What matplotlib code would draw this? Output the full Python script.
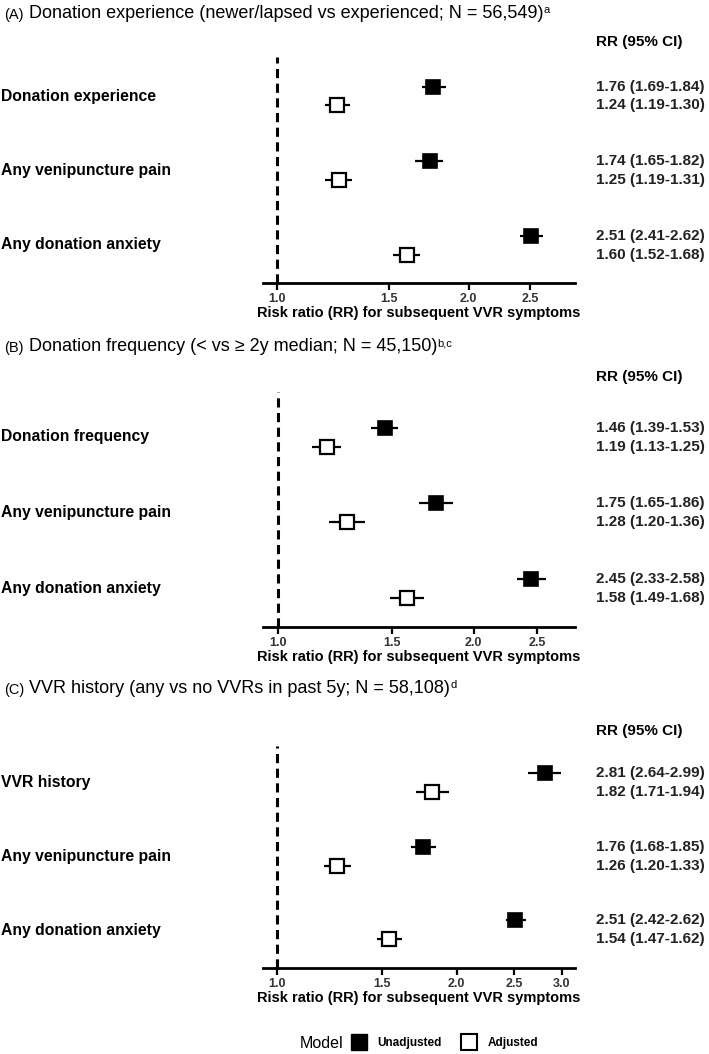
import matplotlib
matplotlib.use("Agg")
import matplotlib.pyplot as plt
from matplotlib.lines import Line2D
import numpy as np

plt.rcParams['font.family'] = ['Liberation Sans', 'DejaVu Sans']

# ---------------- data ----------------
titles_prefix = ["(A)", "(B)", "(C)"]
titles_main = [
    "Donation experience (newer/lapsed vs experienced; N = 56,549)",
    "Donation frequency (< vs \u2265 2y median; N = 45,150)",
    "VVR history (any vs no VVRs in past 5y; N = 58,108)",
]
titles_sup = ["a", "b,c", "d"]

labels_A = ["Donation experience", "Any venipuncture pain", "Any donation anxiety"]
labels_B = ["Donation frequency", "Any venipuncture pain", "Any donation anxiety"]
labels_C = ["VVR history", "Any venipuncture pain", "Any donation anxiety"]

A_unadj = [1.76, 1.74, 2.51]
A_unadj_lo = [1.69, 1.65, 2.41]
A_unadj_hi = [1.84, 1.82, 2.62]
A_adj = [1.24, 1.25, 1.60]
A_adj_lo = [1.19, 1.19, 1.52]
A_adj_hi = [1.30, 1.31, 1.68]

B_unadj = [1.46, 1.75, 2.45]
B_unadj_lo = [1.39, 1.65, 2.33]
B_unadj_hi = [1.53, 1.86, 2.58]
B_adj = [1.19, 1.28, 1.58]
B_adj_lo = [1.13, 1.20, 1.49]
B_adj_hi = [1.25, 1.36, 1.68]

C_unadj = [2.81, 1.76, 2.51]
C_unadj_lo = [2.64, 1.68, 2.42]
C_unadj_hi = [2.99, 1.85, 2.62]
C_adj = [1.82, 1.26, 1.54]
C_adj_lo = [1.71, 1.20, 1.47]
C_adj_hi = [1.94, 1.33, 1.62]

ticks_AB = [1.0, 1.5, 2.0, 2.5]
ticks_C = [1.0, 1.5, 2.0, 2.5, 3.0]

xlabel = "Risk ratio (RR) for subsequent VVR symptoms"
header = "RR (95% CI)"

# ---------------- layout (pixels) ----------------
W, H = 709, 1054
DPI = 100
AX_L, AX_R = 263, 575
VAL_X = 596

panels = [
    dict(labels=labels_A, u=A_unadj, ul=A_unadj_lo, uh=A_unadj_hi,
         a=A_adj, al=A_adj_lo, ah=A_adj_hi, ticks=ticks_AB, xlim=(0.95, 2.94),
         title_y=15, header_y=42, dash_top=57, axis_y=283,
         ry_u=[87, 161, 236], ry_a=[105, 180, 255], ly=[97, 170, 244]),
    dict(labels=labels_B, u=B_unadj, ul=B_unadj_lo, uh=B_unadj_hi,
         a=B_adj, al=B_adj_lo, ah=B_adj_hi, ticks=ticks_AB, xlim=(0.95, 2.86),
         title_y=348, header_y=377, dash_top=392, axis_y=627,
         ry_u=[428, 503, 579], ry_a=[447, 522, 598], ly=[437, 512, 588]),
    dict(labels=labels_C, u=C_unadj, ul=C_unadj_lo, uh=C_unadj_hi,
         a=C_adj, al=C_adj_lo, ah=C_adj_hi, ticks=ticks_C, xlim=(0.947, 3.16),
         title_y=690, header_y=731, dash_top=746, axis_y=968,
         ry_u=[773, 847, 920], ry_a=[792, 866, 939], ly=[782, 857, 931]),
]

fig = plt.figure(figsize=(W / DPI, H / DPI), dpi=DPI)
fig.patch.set_facecolor("white")


def fx(px):
    return px / W


def fy(py):
    return 1 - py / H


MS = 10.5
for i, p in enumerate(panels):
    ax = fig.add_axes([fx(AX_L), fy(p["axis_y"]), fx(AX_R - AX_L),
                       (p["axis_y"] - p["dash_top"]) / H])
    ax.set_xscale("log")
    ax.set_xlim(*p["xlim"])
    ax.set_ylim(p["axis_y"], p["dash_top"])
    ax.axvline(1.0, color="black", lw=2.2, ls=(0, (3, 1.8)), zorder=1)

    u = np.array(p["u"]); a = np.array(p["a"])
    ax.errorbar(u, p["ry_u"], xerr=[u - np.array(p["ul"]), np.array(p["uh"]) - u],
                fmt="s", color="black", ms=MS, mfc="black", mec="black", mew=1.2,
                elinewidth=1.6, capsize=0, zorder=3, clip_on=False)
    ax.errorbar(a, p["ry_a"], xerr=[a - np.array(p["al"]), np.array(p["ah"]) - a],
                fmt="s", color="black", ms=MS, mfc="white", mec="black", mew=1.6,
                elinewidth=1.6, capsize=0, zorder=3, clip_on=False)

    for s in ["top", "right", "left"]:
        ax.spines[s].set_visible(False)
    ax.spines["bottom"].set_linewidth(2.0)
    ax.set_yticks([])
    ax.set_xticks(p["ticks"])
    ax.set_xticklabels([f"{t:.1f}" for t in p["ticks"]], fontsize=9,
                       fontweight="bold", color="#333333")
    ax.xaxis.set_minor_locator(matplotlib.ticker.NullLocator())
    ax.tick_params(axis="x", direction="out", length=5, width=1.6, pad=2)
    ax.set_xlabel(xlabel, fontsize=10.5, fontweight="bold", labelpad=1)
    ax.patch.set_alpha(0)

    # title
    t1 = fig.text(fx(4), fy(p["title_y"]), titles_prefix[i], fontsize=10.5,
                  va="center", ha="left")
    t2 = ax.annotate(" " + titles_main[i], xy=(1, 0), xycoords=t1, fontsize=13,
                     va="bottom", ha="left", annotation_clip=False)
    ax.annotate(titles_sup[i], xy=(1, 1), xycoords=t2, fontsize=8,
                va="top", ha="left", annotation_clip=False)

    fig.text(fx(VAL_X), fy(p["header_y"]), header, fontsize=11,
             fontweight="bold", va="center", ha="left")
    for lab, y in zip(p["labels"], p["ly"]):
        fig.text(fx(1), fy(y), lab, fontsize=11.3, fontweight="bold",
                 va="center", ha="left")
    for v, lo, hi, y in zip(p["u"], p["ul"], p["uh"], p["ry_u"]):
        fig.text(fx(VAL_X), fy(y), f"{v:.2f} ({lo:.2f}-{hi:.2f})", fontsize=11,
                 fontweight="bold", va="center", ha="left", color="#222222")
    for v, lo, hi, y in zip(p["a"], p["al"], p["ah"], p["ry_a"]):
        fig.text(fx(VAL_X), fy(y), f"{v:.2f} ({lo:.2f}-{hi:.2f})", fontsize=11,
                 fontweight="bold", va="center", ha="left", color="#222222")

# legend
fig.text(fx(300), fy(1043), "Model", fontsize=11.5, va="center", ha="left")
handles = [
    Line2D([], [], ls="none", marker="s", ms=11, mfc="black", mec="black"),
    Line2D([], [], ls="none", marker="s", ms=11, mfc="white", mec="black", mew=1.5),
]
fig.legend(handles, ["Unadjusted", "Adjusted"], loc="center left",
           bbox_to_anchor=(fx(352), fy(1043)), ncol=2, frameon=False,
           prop=dict(size=8.5, weight="bold"), handletextpad=0.9,
           columnspacing=1.8, handlelength=1.2, borderpad=0, borderaxespad=0)

fig.savefig("out.png", dpi=DPI, facecolor="white")
